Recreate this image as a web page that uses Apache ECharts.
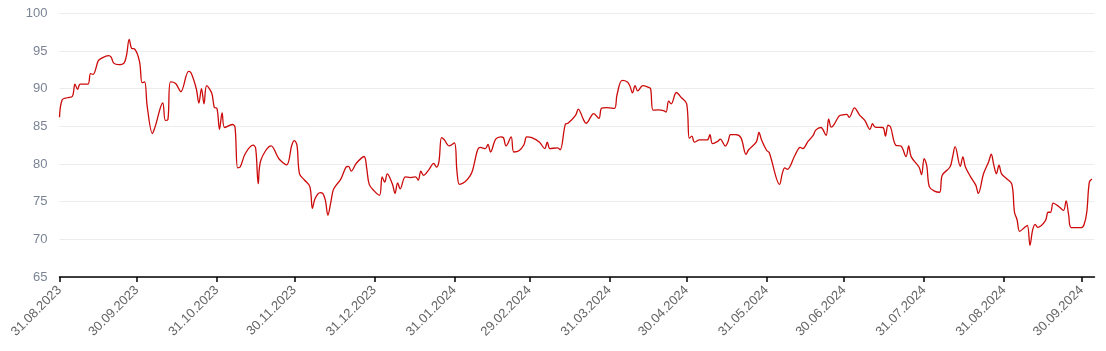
<!DOCTYPE html>
<html>
<head>
<meta charset="utf-8">
<script src="https://cdn.jsdelivr.net/npm/echarts@6/dist/echarts.min.js"></script>
<style>
  html, body { margin: 0; padding: 0; background: #fff; }
  #chart { width: 1106px; height: 351px; }
</style>
</head>
<body>
<div id="chart"></div>
<script>
// dates (calendar positions along the time axis)
const dates = [
  '2023-08-31','2023-09-01','2023-09-03','2023-09-05','2023-09-06','2023-09-07','2023-09-08','2023-09-11','2023-09-12','2023-09-13',
  '2023-09-15','2023-09-16','2023-09-19','2023-09-20','2023-09-21','2023-09-23','2023-09-25','2023-09-26','2023-09-27','2023-09-28',
  '2023-09-29','2023-10-01','2023-10-02','2023-10-03','2023-10-04','2023-10-06','2023-10-07','2023-10-10','2023-10-11','2023-10-12',
  '2023-10-13','2023-10-15','2023-10-17','2023-10-20','2023-10-21','2023-10-23','2023-10-24','2023-10-25','2023-10-26','2023-10-27',
  '2023-10-29','2023-10-30','2023-10-31','2023-11-01','2023-11-02','2023-11-03','2023-11-06','2023-11-07','2023-11-08','2023-11-09',
  '2023-11-11','2023-11-14','2023-11-15','2023-11-16','2023-11-17','2023-11-21','2023-11-24','2023-11-27','2023-11-29','2023-11-30',
  '2023-12-01','2023-12-02','2023-12-04','2023-12-06','2023-12-07','2023-12-08','2023-12-10','2023-12-11','2023-12-12','2023-12-13',
  '2023-12-14','2023-12-15','2023-12-16','2023-12-18','2023-12-20','2023-12-21','2023-12-22','2023-12-24','2023-12-27','2023-12-28',
  '2023-12-29','2023-12-31','2024-01-02','2024-01-03','2024-01-04','2024-01-05','2024-01-07','2024-01-08','2024-01-09','2024-01-10',
  '2024-01-12','2024-01-14','2024-01-16','2024-01-17','2024-01-18','2024-01-19','2024-01-21','2024-01-23','2024-01-24','2024-01-25',
  '2024-01-26','2024-01-27','2024-01-29','2024-01-31','2024-02-01','2024-02-02','2024-02-04','2024-02-06','2024-02-07','2024-02-09',
  '2024-02-10','2024-02-12','2024-02-13','2024-02-14','2024-02-16','2024-02-18','2024-02-19','2024-02-20','2024-02-22','2024-02-23',
  '2024-02-25','2024-02-27','2024-02-28','2024-03-01','2024-03-04','2024-03-06','2024-03-07','2024-03-08','2024-03-11','2024-03-12',
  '2024-03-14','2024-03-15','2024-03-18','2024-03-19','2024-03-21','2024-03-22','2024-03-25','2024-03-27','2024-03-28','2024-03-30',
  '2024-04-02','2024-04-03','2024-04-05','2024-04-07','2024-04-08','2024-04-09','2024-04-10','2024-04-11','2024-04-13','2024-04-15',
  '2024-04-16','2024-04-17','2024-04-19','2024-04-21','2024-04-22','2024-04-23','2024-04-24','2024-04-26','2024-04-28','2024-04-30',
  '2024-05-01','2024-05-02','2024-05-03','2024-05-05','2024-05-08','2024-05-09','2024-05-10','2024-05-12','2024-05-13','2024-05-15',
  '2024-05-16','2024-05-17','2024-05-19','2024-05-21','2024-05-23','2024-05-24','2024-05-27','2024-05-28','2024-05-29','2024-05-31',
  '2024-06-01','2024-06-05','2024-06-06','2024-06-07','2024-06-08','2024-06-11','2024-06-13','2024-06-14','2024-06-16','2024-06-18',
  '2024-06-19','2024-06-21','2024-06-23','2024-06-24','2024-06-25','2024-06-26','2024-06-28','2024-06-29','2024-07-01','2024-07-02',
  '2024-07-04','2024-07-06','2024-07-08','2024-07-10','2024-07-11','2024-07-12','2024-07-15','2024-07-16','2024-07-17','2024-07-18',
  '2024-07-20','2024-07-22','2024-07-24','2024-07-25','2024-07-26','2024-07-29','2024-07-30','2024-07-31','2024-08-01','2024-08-02',
  '2024-08-04','2024-08-06','2024-08-07','2024-08-10','2024-08-11','2024-08-12','2024-08-14','2024-08-15','2024-08-16','2024-08-18',
  '2024-08-20','2024-08-21','2024-08-23','2024-08-25','2024-08-26','2024-08-27','2024-08-28','2024-08-29','2024-08-30','2024-09-01',
  '2024-09-03','2024-09-04','2024-09-05','2024-09-06','2024-09-08','2024-09-09','2024-09-10','2024-09-11','2024-09-12','2024-09-13',
  '2024-09-16','2024-09-17','2024-09-18','2024-09-19','2024-09-21','2024-09-23','2024-09-24','2024-09-25','2024-09-26','2024-09-30',
  '2024-10-01','2024-10-02','2024-10-03','2024-10-04'
];

const values = [
  86.2, 88.5, 88.8, 89.0, 90.6, 89.9, 90.6, 90.6, 92.0, 91.9,
  93.7, 94.0, 94.4, 94.2, 93.4, 93.2, 93.4, 94.5, 96.55, 95.35,
  95.3, 93.6, 90.8, 90.9, 87.6, 84.05, 84.9, 88.1, 85.8, 85.9,
  90.9, 90.7, 89.6, 92.3, 92.1, 90.0, 88.1, 90.0, 88.0, 90.4,
  89.4, 87.5, 87.4, 84.6, 86.8, 84.85, 85.25, 84.9, 79.5, 79.6,
  81.4, 82.5, 82.1, 77.4, 80.5, 82.4, 80.7, 79.9, 82.5, 83.1,
  82.5, 78.7, 77.85, 77.0, 74.1, 75.4, 76.2, 76.1, 75.2, 73.2,
  74.7, 76.5, 77.1, 78.0, 79.6, 79.7, 79.05, 80.1, 81.0, 79.5,
  77.3, 76.4, 75.85, 78.3, 77.6, 78.7, 77.3, 76.1, 77.5, 76.7,
  78.3, 78.2, 78.3, 77.85, 79.05, 78.5, 79.2, 80.1, 79.6, 80.3,
  83.5, 83.25, 82.4, 82.8, 79.0, 77.3, 77.6, 78.4, 79.1, 81.9,
  82.2, 82.05, 82.6, 81.6, 83.3, 83.6, 83.5, 82.4, 83.6, 81.6,
  81.75, 82.6, 83.6, 83.5, 82.9, 82.05, 82.9, 82.05, 82.15, 81.9,
  85.3, 85.4, 86.5, 87.3, 85.9, 85.4, 86.7, 86.05, 87.4, 87.5,
  87.4, 89.2, 91.1, 90.9, 90.35, 89.45, 90.4, 89.7, 90.4, 90.2,
  90.0, 87.15, 87.2, 87.1, 86.9, 88.35, 88.0, 89.5, 88.8, 88.0,
  83.4, 83.7, 82.9, 83.2, 83.2, 83.9, 82.7, 83.0, 83.3, 82.4,
  82.95, 83.9, 83.9, 83.5, 81.3, 81.9, 82.95, 84.2, 83.2, 81.8,
  81.5, 77.3, 78.7, 79.5, 79.3, 81.2, 82.2, 82.05, 83.0, 83.8,
  84.5, 84.85, 83.8, 86.0, 84.9, 85.2, 86.35, 86.5, 86.6, 86.2,
  87.45, 86.5, 85.8, 84.6, 85.35, 84.9, 84.85, 83.7, 85.15, 84.9,
  82.5, 82.4, 81.0, 82.4, 80.95, 79.6, 78.6, 80.7, 79.8, 77.0,
  76.4, 76.25, 78.5, 79.6, 80.9, 82.3, 79.7, 80.95, 79.6, 78.3,
  77.2, 76.1, 78.7, 80.3, 81.3, 79.85, 78.7, 79.85, 78.7, 78.05,
  77.3, 73.6, 72.6, 71.05, 71.6, 71.85, 69.2, 71.2, 72.0, 71.6,
  72.5, 73.6, 73.6, 74.8, 74.4, 73.85, 75.1, 73.2, 71.55, 71.55,
  72.0, 73.6, 77.6, 78.0
];

// month-end tick labels on the x axis
const tickDates = [
  '2023-08-31','2023-09-30','2023-10-31','2023-11-30','2023-12-31','2024-01-31','2024-02-29',
  '2024-03-31','2024-04-30','2024-05-31','2024-06-30','2024-07-31','2024-08-31','2024-09-30'
];

const xStart = '2023-08-31';
const xEnd = '2024-10-05';
const yMin = 65;
const yMax = 100;
const yStep = 5;

// dates -> UTC timestamps so the x axis is a plain linear (calendar) scale
const toTs = d => Date.parse(d + 'T00:00:00Z');
const pad = n => (n < 10 ? '0' : '') + n;
const fmtDate = ts => {
  const d = new Date(ts);
  return pad(d.getUTCDate()) + '.' + pad(d.getUTCMonth() + 1) + '.' + d.getUTCFullYear();
};

const tickTimes = tickDates.map(toTs);

const chart = echarts.init(document.getElementById('chart'));

chart.setOption({
  animation: false,
  backgroundColor: '#ffffff',
  grid: { left: 59.5, right: 11.5, top: 13.4, bottom: 74 },
  xAxis: {
    type: 'value',
    min: toTs(xStart),
    max: toTs(xEnd),
    axisLine: { lineStyle: { color: '#000', width: 1.5 } },
    axisTick: { show: true, length: 5, lineStyle: { color: '#000', width: 1.5 }, customValues: tickTimes },
    axisLabel: {
      customValues: tickTimes,
      rotate: 45,
      margin: 11,
      color: '#666666',
      fontFamily: 'Liberation Sans, Arial, sans-serif',
      fontSize: 13,
      formatter: v => fmtDate(v)
    },
    splitLine: { show: false }
  },
  yAxis: {
    type: 'value',
    min: yMin,
    max: yMax,
    interval: yStep,
    axisLine: { show: false },
    axisTick: { show: false },
    axisLabel: {
      color: '#7a8494',
      fontFamily: 'Liberation Sans, Arial, sans-serif',
      fontSize: 13,
      margin: 12
    },
    splitLine: { lineStyle: { color: '#ececec', width: 1 } }
  },
  series: [{
    type: 'line',
    data: dates.map((d, i) => [toTs(d), values[i]]),
    showSymbol: false,
    smooth: 0.35,
    lineStyle: { color: '#cc0a0a', width: 1.3 },
    itemStyle: { color: '#cc0a0a' }
  }]
});
</script>
</body>
</html>
